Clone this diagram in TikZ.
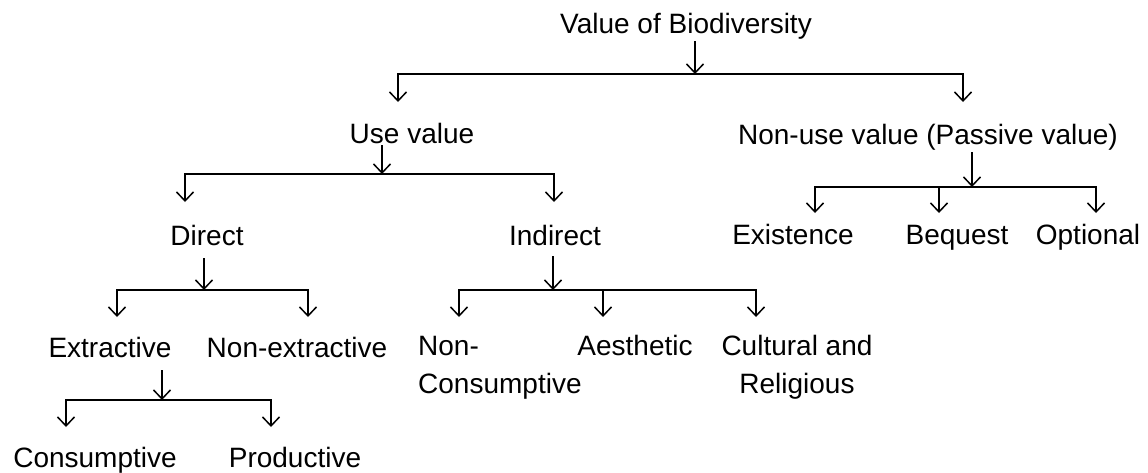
\documentclass[tikz,border=0pt]{standalone}
\usepackage{fontspec}
\setmainfont{Liberation Sans}
\usetikzlibrary{arrows.meta}

\begin{document}
\begin{tikzpicture}[x=1pt, y=-1pt, >={Straight Barb[length=9pt,width=17pt]},
  lbl/.style={font=\fontsize{28}{38}\selectfont, anchor=base, inner sep=2pt},
  bar/.style={line width=2.8pt, line cap=rect},
  arr/.style={->, line width=1.5pt}]
\useasboundingbox (0,0) rectangle (1148,472);

% ---------- level 0 ----------
\node[lbl] (root) at (686,33) {Value of Biodiversity};
\coordinate (rootJ) at (695,74);
\coordinate (rootL) at (398,74);
\coordinate (rootR) at (963,74);
\draw[arr] (rootJ |- root.south) -- (rootJ);
\draw[bar] (rootL) -- (rootR);
\draw[arr] (rootL) -- ++(0,28);
\draw[arr] (rootR) -- ++(0,28);

% ---------- level 1 ----------
\node[lbl] (use) at (412,143) {Use value};
\node[lbl] (nonuse) at (928,144) {Non-use value (Passive value)};

\coordinate (useJ) at (382,174);
\coordinate (useL) at (185,174);
\coordinate (useR) at (554,174);
\draw[arr] (useJ |- use.south) -- (useJ);
\draw[bar] (useL) -- (useR);
\draw[arr] (useL) -- ++(0,28);
\draw[arr] (useR) -- ++(0,28);

\coordinate (nonuseJ) at (972,187);
\coordinate (nonuseL) at (815,187);
\coordinate (nonuseM) at (939,187);
\coordinate (nonuseR) at (1096,187);
\draw[arr] (nonuseJ |- nonuse.south) -- (nonuseJ);
\draw[bar] (nonuseL) -- (nonuseR);
\draw[arr] (nonuseL) -- ++(0,26);
\draw[arr] (nonuseM) -- ++(0,26);
\draw[arr] (nonuseR) -- ++(0,26);

% ---------- level 2 ----------
\node[lbl] (direct) at (207,245) {Direct};
\node[lbl] (indirect) at (555,245) {Indirect};
\node[lbl] (exist) at (793,244) {Existence};
\node[lbl] (bequest) at (957,244) {Bequest};
\node[lbl] (option) at (1088,244) {Optional};

\coordinate (directJ) at (204,290);
\coordinate (directL) at (117,290);
\coordinate (directR) at (308,290);
\draw[arr, shorten <=11pt] (directJ |- direct.south) -- (directJ);
\draw[bar] (directL) -- (directR);
\draw[arr] (directL) -- ++(0,27);
\draw[arr] (directR) -- ++(0,27);

\coordinate (indirectJ) at (553,290);
\coordinate (indirectL) at (459,290);
\coordinate (indirectM) at (603,290);
\coordinate (indirectR) at (756,290);
\draw[arr, shorten <=9pt] (indirectJ |- indirect.south) -- (indirectJ);
\draw[bar] (indirectL) -- (indirectR);
\draw[arr] (indirectL) -- ++(0,27);
\draw[arr] (indirectM) -- ++(0,27);
\draw[arr] (indirectR) -- ++(0,27);

% ---------- level 3 ----------
\node[lbl] (extract) at (110,357) {Extractive};
\node[lbl] (nonextract) at (297,357) {Non-extractive};
% two-line labels: base is the last line
\node[lbl, anchor=base west, align=left] (noncons) at (416,393) {Non-\\Consumptive};
\node[lbl] (aesth) at (635,355) {Aesthetic};
\node[lbl, align=center] (cultural) at (797,393) {Cultural and\\Religious};

\coordinate (extractJ) at (162,400);
\coordinate (extractL) at (66,400);
\coordinate (extractR) at (271,400);
\draw[arr, shorten <=11pt] (extractJ |- extract.south) -- (extractJ);
\draw[bar] (extractL) -- (extractR);
\draw[arr] (extractL) -- ++(0,27);
\draw[arr] (extractR) -- ++(0,27);

% ---------- level 4 ----------
\node[lbl] (consum) at (95,467) {Consumptive};
\node[lbl] (product) at (295,467) {Productive};

\end{tikzpicture}
\end{document}
